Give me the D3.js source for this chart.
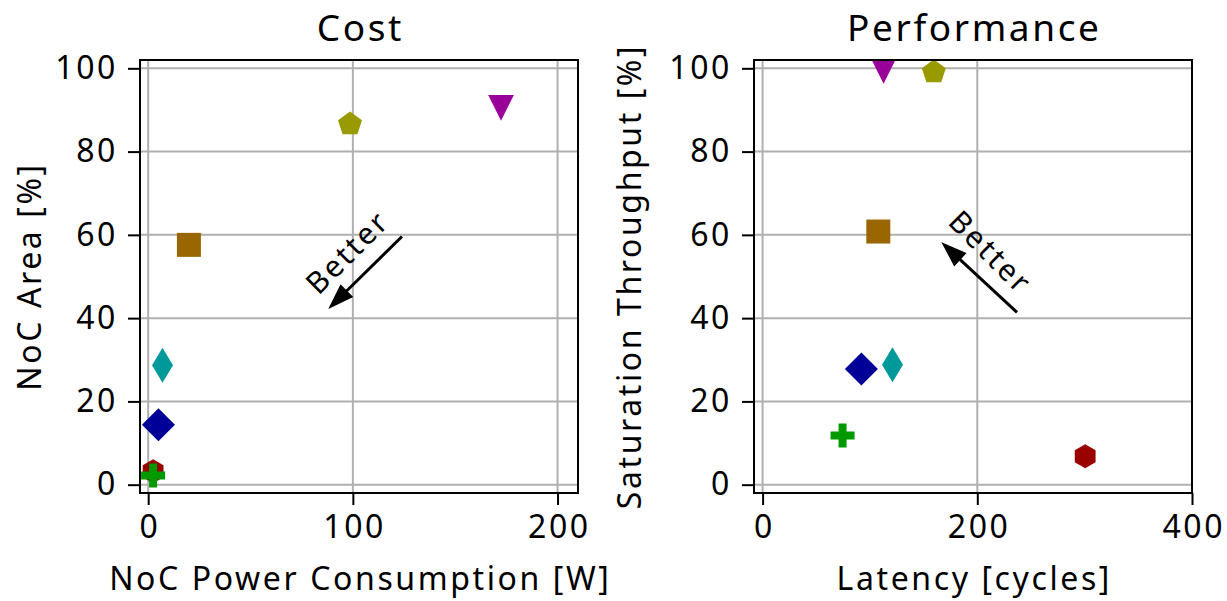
<!DOCTYPE html>
<html><head><meta charset="utf-8">
<script src="https://cdn.jsdelivr.net/npm/d3@7"></script>
<style>body{margin:0;background:#fff}svg{display:block}text{font-family:"Noto Sans",sans-serif;fill:#000;letter-spacing:2.6px}</style>
</head><body>
<svg id="c" width="1227" height="601"></svg>
<script>
// ---- data ----
const markerShapes = ["hexagon","plus","diamond","thinDiamond","square","pentagon","triangleDown"];
const markerColors = ["#990000","#009900","#000099","#009999","#996600","#999900","#990099"];
const powerW      = [2.4, 2.4, 5.0, 7.0, 19.9, 98.6, 172.4];
const areaPct     = [3.2, 2.2, 14.4, 28.7, 57.6, 86.6, 90.5];
const latencyCyc  = [300.5, 74.5, 92.0, 121.0, 107.8, 159.5, 112.7];
const throughput  = [6.8, 11.8, 27.8, 28.8, 60.8, 99.1, 99.4];
const costXTicks = [0, 100, 200];
const perfXTicks = [0, 200, 400];
const yTicks = [0, 20, 40, 60, 80, 100];
// arrows: [tailX, tailY, tipX, tipY] in data units
const costArrow = [124, 59.6, 88.8, 42.6];
const perfArrow = [237, 41.4, 168, 57.9];
const costTextPos = [97, 56];
const perfTextPos = [213, 56];

const svg = d3.select("#c");

function markerPath(shape){
  const p = d3.path();
  const poly = pts => { p.moveTo(pts[0][0],pts[0][1]); pts.slice(1).forEach(q=>p.lineTo(q[0],q[1])); p.closePath(); };
  if(shape==="diamond"){ const r=16.5; poly([[0,-r],[r,0],[0,r],[-r,0]]); }
  else if(shape==="thinDiamond"){ poly([[0,-17.5],[10.5,0],[0,17.5],[-10.5,0]]); }
  else if(shape==="square"){ const h=12; poly([[-h,-h],[h,-h],[h,h],[-h,h]]); }
  else if(shape==="pentagon"){ const r=12.6; poly(d3.range(5).map(i=>{const a=-Math.PI/2+i*2*Math.PI/5; return [r*Math.cos(a), r*Math.sin(a)];})); }
  else if(shape==="hexagon"){ const r=12; poly(d3.range(6).map(i=>{const a=-Math.PI/2+i*Math.PI/3; return [r*Math.cos(a), r*Math.sin(a)];})); }
  else if(shape==="triangleDown"){ const h=12.85; poly([[0,h],[-h,-h],[h,-h]]); }
  else if(shape==="plus"){ const a=12, b=4; poly([[-b,-a],[b,-a],[b,-b],[a,-b],[a,b],[b,b],[b,a],[-b,a],[-b,b],[-a,b],[-a,-b],[-b,-b]]); }
  return p.toString();
}

function panel(opts){
  const {x0,x1,y0,y1,xDomain,yDomain,xTicks,xs,ys,title,xLabel,yLabel,arrow,textPos,textRot,id,yLabelX} = opts;
  const x = d3.scaleLinear().domain(xDomain).range([x0,x1]);
  const y = d3.scaleLinear().domain(yDomain).range([y1,y0]);
  const g = svg.append("g");
  g.append("clipPath").attr("id",id).append("rect").attr("x",x0).attr("y",y0).attr("width",x1-x0).attr("height",y1-y0);
  // grid
  g.append("g").selectAll("line").data(xTicks).join("line")
    .attr("x1",d=>x(d)).attr("x2",d=>x(d)).attr("y1",y0).attr("y2",y1)
    .attr("stroke","#b0b0b0").attr("stroke-width",2);
  g.append("g").selectAll("line").data(yTicks).join("line")
    .attr("y1",d=>y(d)).attr("y2",d=>y(d)).attr("x1",x0).attr("x2",x1)
    .attr("stroke","#b0b0b0").attr("stroke-width",2);
  // axes
  const xa = g.append("g").attr("transform",`translate(0,${y1})`)
    .call(d3.axisBottom(x).tickValues(xTicks).tickSize(12).tickPadding(10).tickFormat(d3.format("d")));
  const ya = g.append("g").attr("transform",`translate(${x0},0)`)
    .call(d3.axisLeft(y).tickValues(yTicks).tickSize(12).tickPadding(10).tickFormat(d3.format("d")));
  [xa,ya].forEach(a=>{
    a.select(".domain").remove();
    a.selectAll(".tick line").attr("stroke","#000").attr("stroke-width",2);
    a.selectAll(".tick text").style("font-family","Noto Sans").style("font-size","32px").attr("fill","#000");
  });
  xa.selectAll(".tick text").attr("dx","1.3");
  // markers
  g.append("g").attr("clip-path",`url(#${id})`).selectAll("path").data(xs.map((v,i)=>i)).join("path")
    .attr("d",i=>markerPath(markerShapes[i]))
    .attr("transform",i=>`translate(${x(xs[i])},${y(ys[i])})`)
    .attr("fill",i=>markerColors[i]);
  // arrow
  const tx=x(arrow[0]), ty=y(arrow[1]), hx=x(arrow[2]), hy=y(arrow[3]);
  const ang=Math.atan2(hy-ty,hx-tx), L=23, W=8;
  const bx=hx-L*Math.cos(ang), by=hy-L*Math.sin(ang);
  g.append("line").attr("x1",tx).attr("y1",ty).attr("x2",bx+4*Math.cos(ang)).attr("y2",by+4*Math.sin(ang))
    .attr("stroke","#000").attr("stroke-width",3);
  g.append("path").attr("d",`M${hx},${hy}L${bx-W*Math.sin(ang)},${by+W*Math.cos(ang)}L${bx+W*Math.sin(ang)},${by-W*Math.cos(ang)}Z`)
    .attr("fill","#000").attr("stroke","#000").attr("stroke-width",1.5).attr("stroke-linejoin","miter");
  g.append("text").attr("transform",`translate(${x(textPos[0])},${y(textPos[1])}) rotate(${textRot})`)
    .attr("text-anchor","middle").attr("dominant-baseline","central").style("font-size","30px").text("Better");
  // frame
  g.append("rect").attr("x",x0).attr("y",y0).attr("width",x1-x0).attr("height",y1-y0)
    .attr("fill","none").attr("stroke","#000").attr("stroke-width",2);
  // labels
  g.append("text").attr("x",(x0+x1)/2+1.3).attr("y",41).attr("text-anchor","middle").style("font-size","37px").text(title);
  g.append("text").attr("x",(x0+x1)/2+1.3).attr("y",590).attr("text-anchor","middle").style("font-size","32px").text(xLabel);
  g.append("text").attr("transform",`translate(${yLabelX},${(y0+y1)/2}) rotate(-90)`).attr("text-anchor","middle").style("font-size","32px").text(yLabel);
}

panel({id:"cp1",x0:140,x1:578,y0:60,y1:493,xDomain:[-4,210],yDomain:[-2,102],xTicks:costXTicks,
  xs:powerW,ys:areaPct,title:"Cost",xLabel:"NoC Power Consumption [W]",yLabel:"NoC Area [%]",
  arrow:costArrow,textPos:costTextPos,textRot:-45,yLabelX:41});
panel({id:"cp2",x0:754,x1:1192,y0:60,y1:493,xDomain:[-8,400],yDomain:[-2,102],xTicks:perfXTicks,
  xs:latencyCyc,ys:throughput,title:"Performance",xLabel:"Latency [cycles]",yLabel:"Saturation Throughput [%]",
  arrow:perfArrow,textPos:perfTextPos,textRot:45,yLabelX:641});
</script>
</body></html>
